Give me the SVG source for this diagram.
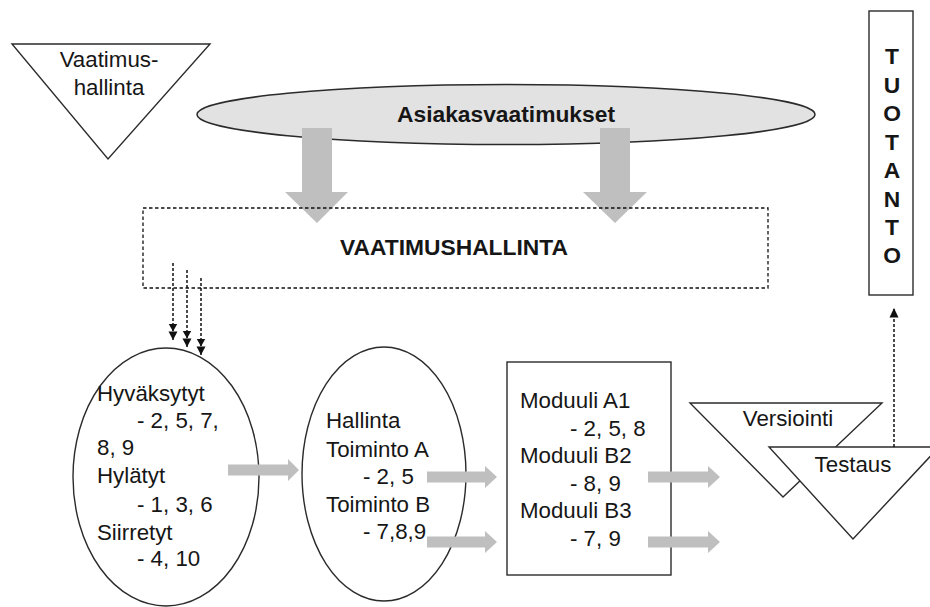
<svg xmlns="http://www.w3.org/2000/svg" width="930" height="607" viewBox="0 0 930 607">
  <style>
    .shape { fill: #ffffff; stroke: #2b2b2b; stroke-width: 1.4; }
    .cloud { fill: #e2e2e2; stroke: #2b2b2b; stroke-width: 1.6; }
    .txt { font-family: "Liberation Sans", Arial, sans-serif; font-size: 22.3px; fill: #161616; }
    .bold { font-weight: bold; font-size: 22.8px; }
    .mid { text-anchor: middle; }
    .fat { fill: #bfbfbf; stroke: none; }
    .dots { fill: none; stroke: #111111; stroke-width: 1.5; stroke-dasharray: 3 2; }
    .frame { fill: none; stroke: #111111; stroke-width: 1.3; stroke-dasharray: 3.5 2.5; }
  </style>
  <defs>
    <!-- double arrowhead used by the requirement feed lines -->
    <marker id="dblHead" viewBox="0 -5 17 10" refX="16.5" refY="0" markerWidth="17" markerHeight="10" markerUnits="userSpaceOnUse" orient="auto">
      <path d="M0,-4.5 L8,0 L0,4.5 Z M8,-4.5 L16.5,0 L8,4.5 Z" fill="#111111"/>
    </marker>
    <marker id="oneHead" viewBox="0 -5 10 10" refX="9.5" refY="0" markerWidth="10" markerHeight="10" markerUnits="userSpaceOnUse" orient="auto">
      <path d="M0,-4.5 L9.5,0 L0,4.5 Z" fill="#111111"/>
    </marker>
  </defs>

  <rect width="930" height="607" fill="#ffffff"/>

  <!-- legend triangle -->
  <g id="vaatimushallinta-legend">
    <polygon class="shape" points="12,44 210,44 108,159"/>
    <text class="txt mid" x="109" y="67">Vaatimus-</text>
    <text class="txt mid" x="109" y="95">hallinta</text>
  </g>

  <!-- customer requirements -->
  <g id="asiakasvaatimukset">
    <ellipse class="cloud" cx="506" cy="114.5" rx="309" ry="30"/>
    <text class="txt bold" x="397" y="122">Asiakasvaatimukset</text>
  </g>

  <!-- production column -->
  <g id="tuotanto">
    <rect class="shape" x="869" y="11" width="44" height="284"/>
    <g class="txt bold mid">
      <text x="892" y="64">T</text>
      <text x="892" y="93">U</text>
      <text x="892" y="121">O</text>
      <text x="892" y="150">T</text>
      <text x="892" y="178">A</text>
      <text x="892" y="207">N</text>
      <text x="892" y="235">T</text>
      <text x="892" y="263">O</text>
    </g>
  </g>

  <!-- requirement decisions -->
  <g id="paatokset">
    <ellipse class="shape" cx="166" cy="477" rx="93" ry="129"/>
    <text class="txt" x="97" y="401">Hyväksytyt</text>
    <text class="txt" x="137" y="428">- 2, 5, 7,</text>
    <text class="txt" x="97" y="455">8, 9</text>
    <text class="txt" x="97" y="483">Hylätyt</text>
    <text class="txt" x="137" y="512">- 1, 3, 6</text>
    <text class="txt" x="97" y="540">Siirretyt</text>
    <text class="txt" x="137" y="566">- 4, 10</text>
  </g>

  <!-- functions -->
  <g id="toiminnot">
    <ellipse class="shape" cx="384" cy="474" rx="82" ry="127"/>
    <text class="txt" x="326" y="428">Hallinta</text>
    <text class="txt" x="326" y="457">Toiminto A</text>
    <text class="txt" x="363" y="484">- 2, 5</text>
    <text class="txt" x="326" y="512">Toiminto B</text>
    <text class="txt" x="363" y="539">- 7,8,9</text>
  </g>

  <!-- modules -->
  <g id="moduulit">
    <rect class="shape" x="507" y="362" width="164" height="213"/>
    <text class="txt" x="520" y="408">Moduuli A1</text>
    <text class="txt" x="570" y="436">- 2, 5, 8</text>
    <text class="txt" x="520" y="463">Moduuli B2</text>
    <text class="txt" x="570" y="491">- 8, 9</text>
    <text class="txt" x="520" y="518">Moduuli B3</text>
    <text class="txt" x="570" y="546">- 7, 9</text>
  </g>

  <!-- versioning and testing -->
  <g id="versiointi">
    <polygon class="shape" points="690,403 882,403 783,497"/>
    <text class="txt mid" x="788" y="426">Versiointi</text>
  </g>
  <g id="testaus">
    <polygon class="shape" points="769,447 939,447 853,539"/>
    <text class="txt mid" x="853" y="472">Testaus</text>
  </g>

  <!-- connectors -->
  <g id="connectors">
    <path class="fat" d="M302,128 H332 V192 H348 L317,223 L285,192 H302 Z"/>
    <path class="fat" d="M600,128 H630 V192 H647 L615,223 L583,192 H600 Z"/>

    <path class="fat" d="M228,464.5 H288 V459 L299,470 L288,481 V475.5 H228 Z"/>
    <path class="fat" d="M427,471.5 H485 V466 L497,477 L485,488 V482.5 H427 Z"/>
    <path class="fat" d="M427,536.5 H485 V531 L497,542 L485,553 V547.5 H427 Z"/>
    <path class="fat" d="M648,471.5 H708 V466 L720,477 L708,488 V482.5 H648 Z"/>
    <path class="fat" d="M648,536.5 H708 V531 L720,542 L708,553 V547.5 H648 Z"/>

    <line class="dots" x1="173" y1="263" x2="173" y2="340" marker-end="url(#dblHead)"/>
    <line class="dots" x1="187" y1="270" x2="187" y2="347" marker-end="url(#dblHead)"/>
    <line class="dots" x1="201" y1="278" x2="201" y2="355" marker-end="url(#dblHead)"/>

    <line class="dots" x1="894" y1="447" x2="894" y2="308" marker-end="url(#oneHead)"/>
  </g>

  <!-- requirement management frame -->
  <g id="vaatimushallinta">
    <rect class="frame" x="143" y="208" width="625" height="80"/>
    <text class="txt bold" x="340" y="255">VAATIMUSHALLINTA</text>
  </g>
</svg>
